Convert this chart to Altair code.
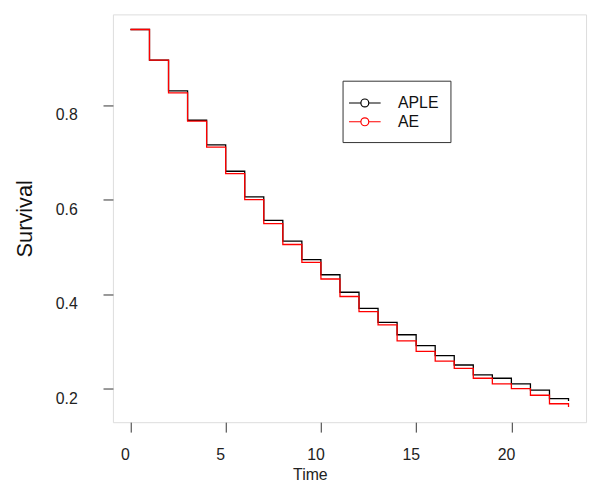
import altair as alt
import pandas as pd

time = list(range(24))
aple = [0.960, 0.895, 0.830, 0.768, 0.716, 0.660, 0.606, 0.556, 0.512, 0.473,
        0.441, 0.404, 0.370, 0.340, 0.314, 0.291, 0.270, 0.250, 0.229, 0.222,
        0.210, 0.197, 0.179, 0.174]
ae = [0.960, 0.895, 0.826, 0.766, 0.711, 0.655, 0.600, 0.549, 0.505, 0.467,
      0.432, 0.395, 0.363, 0.335, 0.301, 0.279, 0.258, 0.243, 0.222, 0.210,
      0.200, 0.186, 0.168, 0.161]
series_names = ["APLE", "AE"]
series_colors = ["#000000", "#ff0000"]
x_ticks = [0, 5, 10, 15, 20]
y_ticks = [0.2, 0.4, 0.6, 0.8]

rows = []
for name, vals in zip(series_names, [aple, ae]):
    for t, v in zip(time, vals):
        rows.append({"Time": t, "Survival": v, "Method": name})
df = pd.DataFrame(rows)

legend_symbol = ("M-1.64,0L-0.41,0M0.41,0L1.64,0"
                 "M0.41,0A0.41,0.41,0,1,1,-0.41,0A0.41,0.41,0,1,1,0.41,0")

x_enc = alt.X(
    "Time:Q",
    scale=alt.Scale(domain=[-0.92, 23.92], nice=False, zero=False),
    axis=alt.Axis(
        values=x_ticks, title="Time", domain=False, grid=False,
        tickSize=10, tickColor="#333333", labelFontSize=16, labelColor="#222222",
        labelFont="Liberation Sans", labelPadding=15, labelOffset=-5.5, labelFlush=False,
        titleFont="Liberation Sans", titleFontSize=16, titleFontWeight="normal",
        titleColor="#222222", titleX=199, titleY=58, titleBaseline="alphabetic",
        titleAlign="center",
    ),
)
y_enc = alt.Y(
    "Survival:Q",
    scale=alt.Scale(domain=[0.129, 0.992], nice=False, zero=False),
    axis=alt.Axis(
        values=y_ticks, title="Survival", domain=False, grid=False,
        tickSize=10, tickColor="#333333", labelFontSize=16, labelColor="#222222",
        labelFont="Liberation Sans", labelPadding=26, labelOffset=10, labelFlush=False,
        format=".1f",
        titleFont="Liberation Sans", titleFontSize=22, titleFontWeight="normal",
        titleColor="#111111", titleAngle=270, titleX=-82, titleY=206,
        titleBaseline="alphabetic", titleAlign="center",
    ),
)
color_enc = alt.Color(
    "Method:N",
    scale=alt.Scale(domain=series_names, range=series_colors),
    legend=alt.Legend(
        title=None, orient="none", legendX=232, legendY=67,
        symbolType=legend_symbol, symbolSize=380, symbolStrokeWidth=1.2,
        symbolFillColor="transparent",
        labelFontSize=16, labelFont="Liberation Sans", labelColor="#111111",
        labelOffset=23, rowPadding=0, padding=12,
        strokeColor="#333333", fillColor="white",
    ),
)

base = alt.Chart(df).mark_line(interpolate="step-after", strokeWidth=1.3)
black = base.transform_filter(alt.datum.Method == "APLE").encode(x=x_enc, y=y_enc, color=color_enc)
red = base.transform_filter(alt.datum.Method == "AE").encode(x=x_enc, y=y_enc, color=color_enc)

chart = alt.layer(black, red).properties(
    width=478, height=412,
    autosize=alt.AutoSizeParams(type="none"),
    padding={"left": 106, "top": 4, "right": 5, "bottom": 60},
).configure_view(stroke="#333333", strokeWidth=1.2).configure(background="white")

chart.save("out.html", embed_options={"renderer": "svg", "actions": False})
